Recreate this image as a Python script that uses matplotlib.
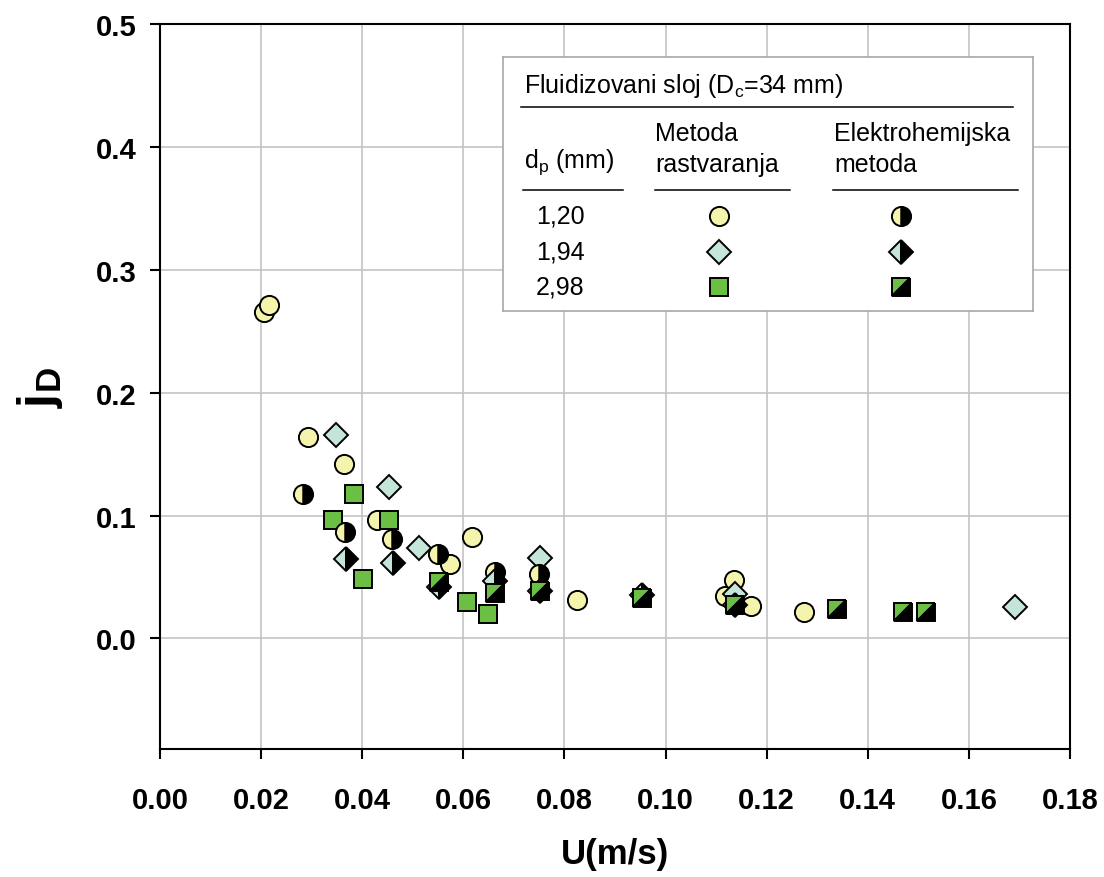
import matplotlib
matplotlib.use("Agg")
import matplotlib.pyplot as plt
from matplotlib.markers import MarkerStyle
from matplotlib.transforms import Affine2D

plt.rcParams['font.family'] = ['Liberation Sans', 'DejaVu Sans']
plt.rcParams['mathtext.fontset'] = 'custom'
plt.rcParams['mathtext.rm'] = 'Liberation Sans'
plt.rcParams['mathtext.it'] = 'Liberation Sans'
plt.rcParams['mathtext.bf'] = 'Liberation Sans:bold'

# ---- data: superficial velocity U (m/s) and mass-transfer factor jD ----
# dissolution method
u_c_dis = [0.0206, 0.0215, 0.0292, 0.0363, 0.0429, 0.0574, 0.0617, 0.0824, 0.1118, 0.1136, 0.1169, 0.1274]
jd_c_dis = [0.2660, 0.2715, 0.1640, 0.1417, 0.0967, 0.0602, 0.0829, 0.0311, 0.0348, 0.0478, 0.0262, 0.0213]
u_d_dis = [0.0349, 0.0453, 0.0513, 0.0752, 0.1137, 0.1692]
jd_d_dis = [0.1653, 0.1233, 0.0732, 0.0656, 0.0360, 0.0258]
u_s_dis = [0.0342, 0.0384, 0.0402, 0.0453, 0.0608, 0.0648]
jd_s_dis = [0.0967, 0.1179, 0.0480, 0.0967, 0.0298, 0.0195]
# electrochemical method
u_c_el = [0.0283, 0.0365, 0.0458, 0.0549, 0.0663, 0.0750]
jd_c_el = [0.1176, 0.0867, 0.0813, 0.0689, 0.0542, 0.0528]
u_d_el = [0.0367, 0.0460, 0.0551, 0.0663, 0.0752, 0.0954, 0.1137]
jd_d_el = [0.0650, 0.0610, 0.0415, 0.0465, 0.0384, 0.0355, 0.0270]
u_s_el = [0.0551, 0.0663, 0.0752, 0.0954, 0.1137, 0.1340, 0.1469, 0.1515]
jd_s_el = [0.0460, 0.0373, 0.0384, 0.0325, 0.0271, 0.0236, 0.0211, 0.0217]

dp_labels = ['1,20', '1,94', '2,98']
x_ticks = [0.00, 0.02, 0.04, 0.06, 0.08, 0.10, 0.12, 0.14, 0.16, 0.18]
y_ticks = [0.0, 0.1, 0.2, 0.3, 0.4, 0.5]

YELLOW = '#F5F4AC'
MINT = '#C5E5D8'
GREEN = '#6CBF45'

MS_C = 13.8
MS_D = 12.6
MS_S = 13.6
MEW = 1.4

half_square = MarkerStyle('D', fillstyle='left', transform=Affine2D().rotate_deg(-45))


def styles():
    return [
        dict(marker='o', ms=MS_C, mfc=YELLOW, mec='black', mew=MEW),
        dict(marker='D', ms=MS_D, mfc=MINT, mec='black', mew=MEW),
        dict(marker='s', ms=MS_S, mfc=GREEN, mec='black', mew=MEW),
        dict(marker='o', ms=MS_C, mfc=YELLOW, mfcalt='black', fillstyle='left', mec='black', mew=MEW),
        dict(marker='D', ms=MS_D, mfc=MINT, mfcalt='black', fillstyle='left', mec='black', mew=MEW),
        dict(marker=half_square, ms=MS_S, mfc=GREEN, mfcalt='black', fillstyle='left', mec='black', mew=MEW),
    ]


fig = plt.figure(figsize=(11.04, 8.78), dpi=100)
W, H = 1104, 878
ax = fig.add_axes([160 / W, 128 / H, 910 / W, 725 / H])

series = [(u_c_dis, jd_c_dis), (u_d_dis, jd_d_dis), (u_s_dis, jd_s_dis),
          (u_c_el, jd_c_el), (u_d_el, jd_d_el), (u_s_el, jd_s_el)]
for (u, jd), st in zip(series, styles()):
    ax.plot(u, jd, linestyle='none', **st, zorder=3)

ax.set_xlim(0, 0.18)
ax.set_ylim(-0.09, 0.5)
ax.set_xticks(x_ticks)
ax.set_xticklabels([f'{v:.2f}' for v in x_ticks])
ax.set_yticks(y_ticks)
ax.set_yticklabels([f'{v:.1f}' for v in y_ticks])
ax.grid(True, color='#c4c4c4', lw=1.2)
ax.set_axisbelow(True)
for sp in ax.spines.values():
    sp.set_linewidth(1.5)
ax.tick_params(axis='both', direction='out', length=7, width=1.5, labelsize=21)
ax.tick_params(axis='x', pad=20)
ax.tick_params(axis='y', pad=10)
for lab in ax.get_xticklabels() + ax.get_yticklabels():
    lab.set_fontweight('bold')

ax.set_xlabel('U(m/s)', fontsize=25, fontweight='bold')
ax.xaxis.set_label_coords(0.5, -0.122)
ax.set_ylabel(r'$\mathbf{j}_\mathbf{D}$', fontsize=36)
ax.yaxis.set_label_coords(-0.104, 0.5)

# ---- legend table, laid out in pixel units ----
L0, L1, T0, T1 = 503, 1033, 58, 312
lg = fig.add_axes([L0 / W, (H - T1) / H, (L1 - L0) / W, (T1 - T0) / H], zorder=5)
lg.set_xlim(L0, L1)
lg.set_ylim(T1, T0)
lg.set_xticks([])
lg.set_yticks([])
lg.set_facecolor('white')
for sp in lg.spines.values():
    sp.set_color('#a8a8a8')
    sp.set_linewidth(1.2)

FS = 18
lg.text(524, 93, r'Fluidizovani sloj (D$_\mathrm{c}$=34 mm)', fontsize=FS, va='baseline', ha='left')
lg.plot([521, 1013], [108, 108], color='black', lw=1.1)
lg.text(524, 168, r'd$_\mathrm{p}$ (mm)', fontsize=FS, va='baseline', ha='left')
lg.text(655, 141, 'Metoda', fontsize=FS, va='baseline', ha='left')
lg.text(655, 172, 'rastvaranja', fontsize=FS, va='baseline', ha='left')
lg.text(834, 141, 'Elektrohemijska', fontsize=FS, va='baseline', ha='left')
lg.text(834, 172, 'metoda', fontsize=FS, va='baseline', ha='left')
for x0, x1 in [(523, 623), (655, 790), (833, 1018)]:
    lg.plot([x0, x1], [191, 191], color='black', lw=1.1)

row_y = [217, 253, 288]
st = styles()
for i, (lab, y) in enumerate(zip(dp_labels, row_y)):
    lg.text(560, y, lab, fontsize=FS, va='center', ha='center')
    lg.plot([719], [y], linestyle='none', **st[i])
    lg.plot([901], [y], linestyle='none', **st[i + 3])

fig.savefig('out.png', dpi=100)
